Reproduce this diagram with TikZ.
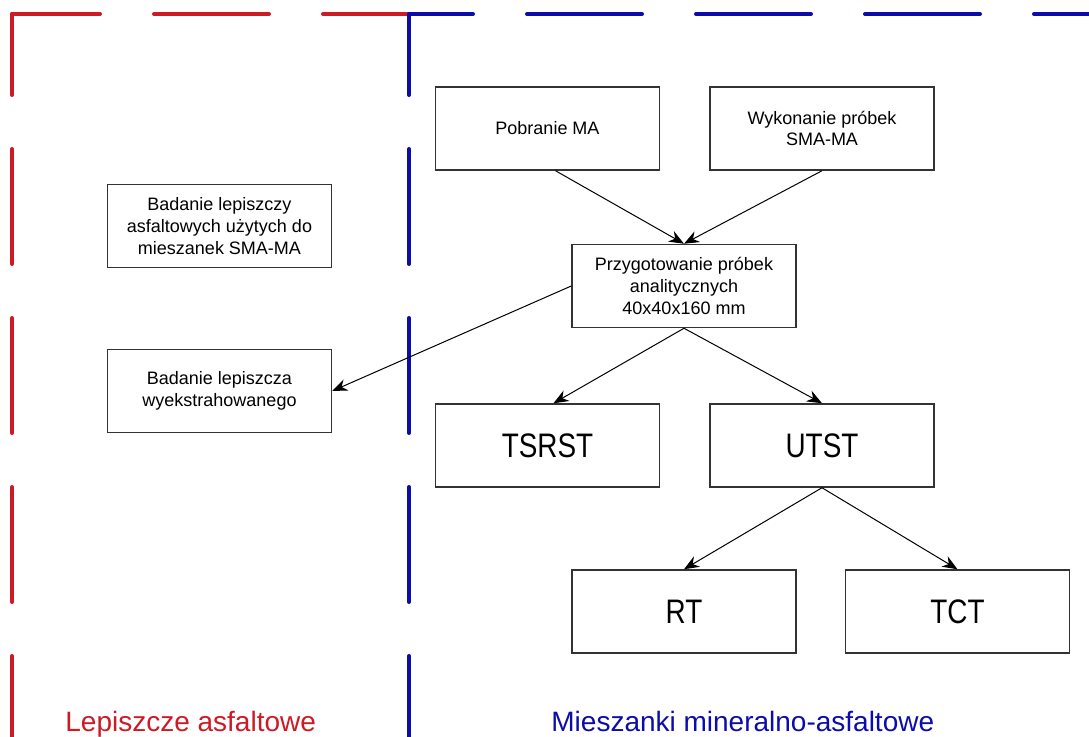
\documentclass[tikz,border=0pt]{standalone}
\usepackage{fontspec}
\setmainfont{Liberation Sans}
\newfontfamily\narrowfont[FakeStretch=0.82]{Liberation Sans}
\usepackage{tikz}
\usetikzlibrary{positioning, arrows.meta}
\definecolor{zoneA}{RGB}{204, 27, 36}
\definecolor{zoneB}{RGB}{12, 12, 170}

\begin{document}
\begin{tikzpicture}[x=0.5pt, y=-0.5pt, >={Stealth[length=7.5pt, width=6pt]},
    font=\fontsize{9}{10.9}\selectfont,
    box/.style={draw=black!80, line width=0.75pt, minimum width=112pt, minimum height=41.5pt, align=center, inner sep=2pt},
    bigbox/.style={box, font=\narrowfont\fontsize{17}{20}\selectfont},
    zoneframe/.style={line width=2pt, line cap=round, dash pattern=on 57.5pt off 27pt},
    zonelabel/.style={anchor=base west, inner sep=0pt, font=\fontsize{14}{16}\selectfont}]
  \useasboundingbox (0,0) rectangle (1089,737);
  % dashed frames
  \draw[zoneframe, zoneA, dash phase=13.5pt] (12,14) -- (407,14);
  \draw[zoneframe, zoneA, dash phase=17pt] (12,14) -- (12,760);
  \draw[zoneframe, zoneB, dash phase=25.5pt] (409,14) -- (1100,14);
  \draw[zoneframe, zoneB, dash phase=17pt] (409,14) -- (409,760);
  \node[zonelabel, text=zoneA] (labA) at (65,732) {Lepiszcze asfaltowe};
  \node[zonelabel, text=zoneB] (labB) at (551,732) {Mieszanki mineralno-asfaltowe};

  \node[box] (pobranie) at (547.5,128.5) {Pobranie MA};
  \node[box, right=24.5pt of pobranie] (wykonanie) {Wykonanie próbek\\SMA-MA};
  \node[box] (lepiszcze) at (219.5,226) {Badanie lepiszczy\\asfaltowych użytych do\\mieszanek SMA-MA};
  \node[box] (przygot) at (684,286) {Przygotowanie próbek\\analitycznych\\40x40x160 mm};
  \node[box] (ekstrakt) at (219.5,391) {Badanie lepiszcza\\wyekstrahowanego};
  \node[bigbox] (tsrst) at (547.5,445.5) {TSRST};
  \node[bigbox, right=24.5pt of tsrst] (utst) {UTST};
  \node[bigbox] (rt) at (684,611.5) {RT};
  \node[bigbox, right=24pt of rt] (tct) {TCT};

  \draw[->, line width=0.5pt] ([xshift=4pt]pobranie.south) -- (przygot.north);
  \draw[->, line width=0.5pt] (wykonanie.south) -- (przygot.north);
  \draw[->, line width=0.5pt] (przygot.west) -- (ekstrakt.east);
  \draw[->, line width=0.5pt] (przygot.south) -- ([xshift=3pt]tsrst.north);
  \draw[->, line width=0.5pt] (przygot.south) -- (utst.north);
  \draw[->, line width=0.5pt] (utst.south) -- (rt.north);
  \draw[->, line width=0.5pt] (utst.south) -- (tct.north);
\end{tikzpicture}
\end{document}
